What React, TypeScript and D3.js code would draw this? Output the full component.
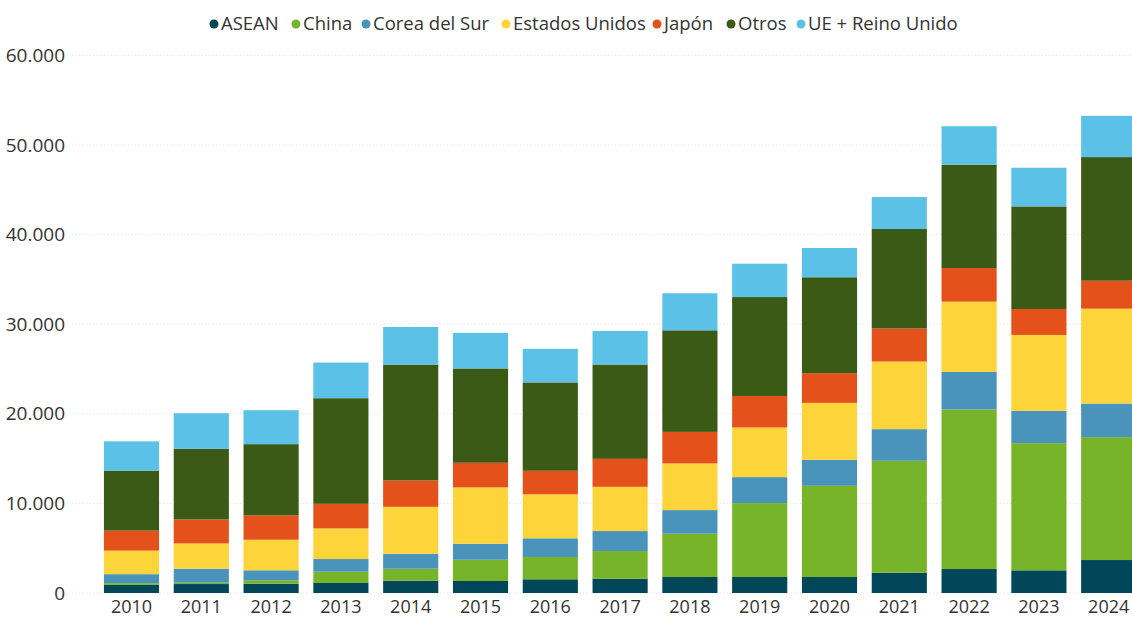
import React from "react";
import * as d3 from "d3";

const years = ["2010","2011","2012","2013","2014","2015","2016","2017","2018","2019","2020","2021","2022","2023","2024"];
const seriesNames = ["ASEAN","China","Corea del Sur","Estados Unidos","Japón","Otros","UE + Reino Unido"];
const seriesColors = ["#014659","#78b42a","#4a93bb","#fdd43a","#e4511a","#3a5a15","#5bc1e6"];

const asean = [900,1000,1040,1115,1370,1340,1530,1595,1785,1785,1785,2265,2675,2530,3680];
const china = [200,150,380,1260,1340,2375,2490,3090,4830,8250,10180,12490,17810,14200,13720];
const corea = [1000,1560,1115,1415,1670,1785,2085,2230,2640,2900,2900,3535,4190,3600,3750];
const eeuu = [2630,2820,3410,3420,5240,6290,4910,4940,5210,5540,6360,7550,7850,8475,10590];
const japon = [2230,2680,2720,2745,2940,2745,2630,3120,3520,3520,3310,3680,3750,2900,3120];
const otros = [6690,7880,7950,11790,12940,10530,9860,10530,11340,11040,10710,11110,11530,11450,13800];
const ue = [3280,3980,3790,3980,4190,3970,3750,3750,4130,3725,3270,3570,4300,4315,4605];

const seriesValues = [asean, china, corea, eeuu, japon, otros, ue];
const yTicks = [0,10000,20000,30000,40000,50000,60000];

const W = 1132, H = 617;

export default function App() {
  const rows = years.map((y, i) => {
    const r: any = { year: y };
    seriesNames.forEach((s, k) => { r[s] = seriesValues[k][i]; });
    return r;
  });
  const stacked = d3.stack().keys(seriesNames)(rows);

  const x = d3.scaleBand().domain(years).range([96.6, 1143.6]).paddingInner(0.21).paddingOuter(0.105);
  const y = d3.scaleLinear().domain([0, 60000]).range([593, 55.5]);
  const fmt = (v: number) => d3.format(",")(v).replace(/,/g, ".");

  const legendX = [214, 296, 366, 506, 657, 731, 801];

  return (
    <svg width={W} height={H} style={{ position: "absolute", left: 0, top: 0, background: "#fff" }}
      fontFamily="'Open Sans', 'Noto Sans', sans-serif">
      {yTicks.map(t => (
        <g key={t}>
          <line x1={72} x2={W} y1={y(t)} y2={y(t)} stroke="#e6e6e6" strokeWidth={1} strokeDasharray="1.5,2" />
          <text x={65} y={y(t)} dy="0.35em" textAnchor="end" fontSize={19} fill="#333">{fmt(t)}</text>
        </g>
      ))}
      {stacked.map((layer, k) => (
        <g key={seriesNames[k]} fill={seriesColors[k]}>
          {layer.map((d: any, i: number) => (
            <rect key={i} x={x(years[i])} width={x.bandwidth()} y={y(d[1])} height={y(d[0]) - y(d[1])} />
          ))}
        </g>
      ))}
      {years.map(yr => (
        <text key={yr} x={(x(yr) as number) + x.bandwidth() / 2} y={607} dy="0.35em" textAnchor="middle" fontSize={18} fill="#333">{yr}</text>
      ))}
      {seriesNames.map((s, k) => (
        <g key={s} transform={`translate(${legendX[k]},24)`}>
          <circle cx={0} cy={0} r={4.5} fill={seriesColors[k]} />
          <text x={7} y={0} dy="0.35em" fontSize={18.5} fill="#333">{s}</text>
        </g>
      ))}
    </svg>
  );
}
